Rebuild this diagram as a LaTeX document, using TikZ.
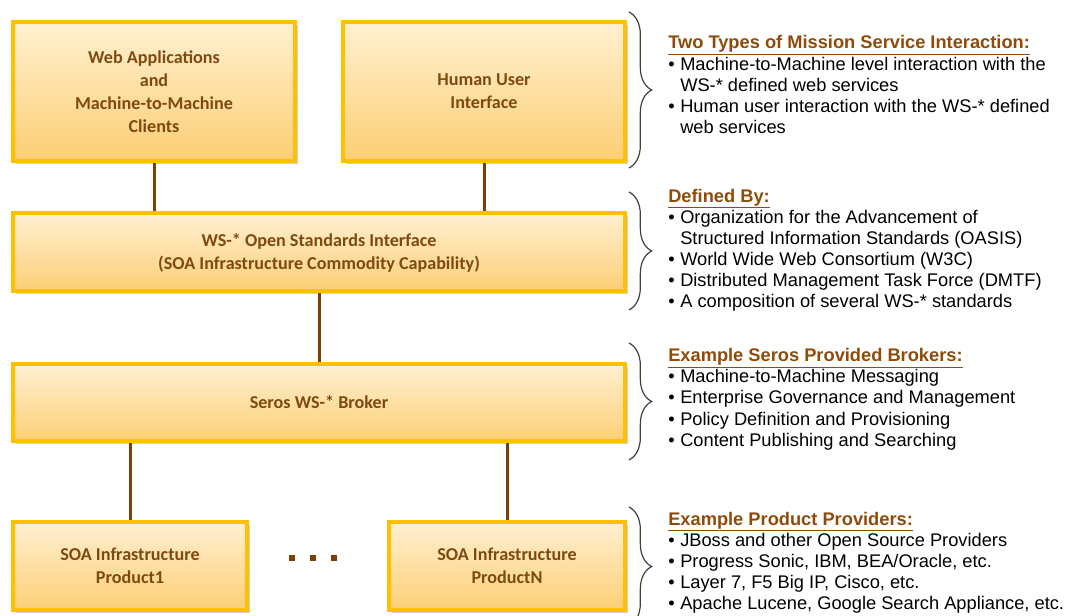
\documentclass[tikz,border=0pt]{standalone}
\usepackage{fontspec}
\setmainfont{Liberation Sans}
\newfontfamily\boxfont{Carlito}
\usetikzlibrary{shadows,decorations.pathreplacing}
\definecolor{boxtext}{HTML}{7F4A10}
\definecolor{hdr}{HTML}{8E4B0A}
\definecolor{conn}{HTML}{7F3F05}
\definecolor{bord}{HTML}{FFC000}
\definecolor{shtop}{HTML}{FFF6E2}
\definecolor{shedge}{HTML}{FDDC8E}
\definecolor{shbot}{HTML}{FCC55A}
\definecolor{bracecol}{HTML}{404040}
\pgfdeclareverticalshading{boxshade}{100bp}{color(0bp)=(shbot); color(25bp)=(shbot!80!shtop); color(84bp)=(shtop); color(100bp)=(shedge)}
\newcommand\hdrline[1]{{\color{hdr}\bfseries\underline{#1}}}
\newcommand\bul{\makebox[9pt][l]{•}}
\newcommand\cont{\hspace*{9pt}}
\tikzset{
  box/.style 2 args={draw=bord, line width=3pt, shade, shading=boxshade,
    drop shadow={shadow xshift=2pt, shadow yshift=-2pt, opacity=0.3, fill=black!60},
    font=\boxfont\bfseries\fontsize{13.6}{17.25}\selectfont, text=boxtext,
    align=center, inner sep=0pt,
    minimum width=#1*0.75pt, minimum height=#2*0.75pt},
  conn/.style={draw=conn, line width=2.25pt},
  sqdot/.style={fill=conn, minimum size=4.5pt, inner sep=0pt},
  rtext/.style={anchor=north west, align=left, inner sep=0pt, text=black,
    font=\fontsize{13.7}{15.9}\selectfont},
  curly/.style={draw=bracecol, line width=0.9pt, decorate,
    decoration={brace, amplitude=17pt, aspect=0.5}},
}
\begin{document}
\begin{tikzpicture}[x=0.75pt,y=-0.75pt]
\useasboundingbox (0,0) rectangle (1065,616);
\clip (0,0) rectangle (1065,616);

% boxes
\node[box={282}{139}] (b1) at (154,91.5) {Web Applications\\and\\Machine-to-Machine\\Clients};
\node[box={282}{139}] (b2) at (484,91.5) {Human User\\Interface};
\node[box={612}{78}] (b3) at (319,252.5) {WS-* Open Standards Interface\\(SOA Infrastructure Commodity Capability)};
\node[box={612}{77}] (b4) at (319,402.5) {Seros WS-* Broker};
\node[box={234}{88}] (b5) at (130,566) {SOA Infrastructure\\Product1};
\node[box={236}{88}] (b6) at (507,566) {SOA Infrastructure\\ProductN};

% connectors
\draw[conn] (b1.south) -- (b1.south |- b3.north);
\draw[conn] (b2.south) -- (b2.south |- b3.north);
\draw[conn] (b3.south -| b4.north) -- (b4.north);
\draw[conn] (b5.north |- b4.south) -- (b5.north);
\draw[conn] (b6.north |- b4.south) -- (b6.north);

% dots
\node[sqdot] (d1) at (292,558) {};
\node[sqdot] (d2) at (313,558) {};
\node[sqdot] (d3) at (334,558) {};

% braces
\coordinate (br1a) at (629,12);  \coordinate (br1b) at (629,168);
\coordinate (br2a) at (629,192); \coordinate (br2b) at (629,310);
\coordinate (br3a) at (629,343); \coordinate (br3b) at (629,460);
\coordinate (br4a) at (629,507); \coordinate (br4b) at (629,626);
\draw[curly] (br1a) -- (br1b);
\draw[curly] (br2a) -- (br2b);
\draw[curly] (br3a) -- (br3b);
\draw[curly] (br4a) -- (br4b);

% right-hand texts
\node[rtext] (t1) at (668,35.5) {%
\hdrline{Two Types of Mission Service Interaction:}\\
\bul Machine-to-Machine level interaction with the\\
\cont WS-* defined web services\\
\bul Human user interaction with the WS-* defined\\
\cont web services};

\node[rtext] (t2) at (668,188.5) {%
\hdrline{Defined By:}\\
\bul Organization for the Advancement of\\
\cont Structured Information Standards (OASIS)\\
\bul World Wide Web Consortium (W3C)\\
\bul Distributed Management Task Force (DMTF)\\
\bul A composition of several WS-* standards};

\node[rtext] (t3) at (668,348) {%
\hdrline{Example Seros Provided Brokers:}\\
\bul Machine-to-Machine Messaging\\
\bul Enterprise Governance and Management\\
\bul Policy Definition and Provisioning\\
\bul Content Publishing and Searching};

\node[rtext] (t4) at (668,511.5) {%
\hdrline{Example Product Providers:}\\
\bul JBoss and other Open Source Providers\\
\bul Progress Sonic, IBM, BEA/Oracle, etc.\\
\bul Layer 7, F5 Big IP, Cisco, etc.\\
\bul Apache Lucene, Google Search Appliance, etc.};
\end{tikzpicture}
\end{document}
